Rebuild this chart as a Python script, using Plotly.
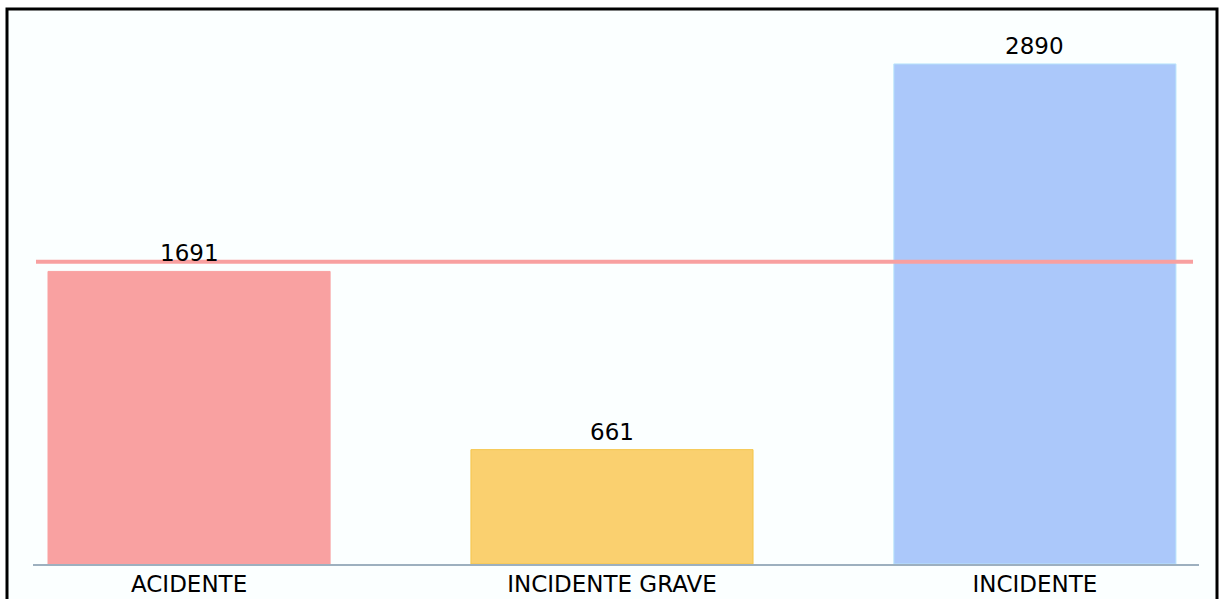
import plotly.graph_objects as go

categories = ["ACIDENTE", "INCIDENTE GRAVE", "INCIDENTE"]
values = [1691, 661, 2890]
bar_colors = ["#f9a1a1", "#fad06f", "#abc8fa"]
edge_colors = ["#f9a1a1", "#f5c54a", "#b8e4fb"]

mean_value = sum(values) / len(values)

W, H = 1220, 599
L, R, T, B = 33, 21, 20, 35

fig = go.Figure()
fig.add_trace(go.Bar(
    x=categories,
    y=values,
    width=0.667,
    marker=dict(color=bar_colors, line=dict(color=edge_colors, width=1)),
    hoverinfo="x+y",
))

for c, v in zip(categories, values):
    fig.add_annotation(x=c, y=v, text=str(v), showarrow=False,
                       yanchor="bottom", yshift=3,
                       font=dict(family="DejaVu Sans", size=23, color="#000000"))

# mean line
fig.add_shape(type="line", xref="paper", yref="y",
              x0=3 / 1166, x1=1160 / 1166, y0=mean_value, y1=mean_value,
              line=dict(color="#f8a0a0", width=4), layer="above")

# outer frame
pw = W - L - R
ph = H - T - B
fig.add_shape(type="rect", xref="paper", yref="paper",
              x0=(7 - L) / pw, x1=(1217 - L) / pw,
              y0=-(H + 20 - T - ph) / ph, y1=(H - 9 - B) / ph,
              line=dict(color="#000000", width=3), fillcolor="#fbffff", layer="below")

fig.update_layout(
    width=W, height=H,
    margin=dict(l=L, r=R, t=T, b=B, autoexpand=False),
    paper_bgcolor="#ffffff",
    plot_bgcolor="rgba(0,0,0,0)",
    showlegend=False,
    xaxis=dict(
        range=[-0.369, 2.388],
        automargin=False,
        showgrid=False, zeroline=False,
        showline=True, linecolor="#9db0bf", linewidth=2,
        ticks="", ticklabelstandoff=-2,
        tickfont=dict(family="DejaVu Sans", size=23, color="#000000"),
    ),
    yaxis=dict(
        range=[0, 3144],
        automargin=False,
        visible=False, showgrid=False, zeroline=False,
    ),
)

fig.write_html("out.html")
